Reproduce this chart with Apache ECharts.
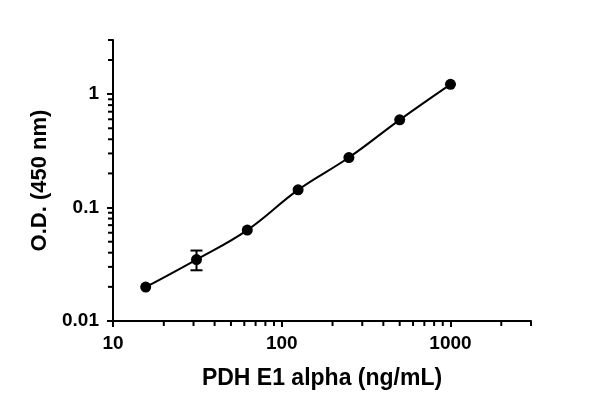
<!DOCTYPE html>
<html>
<head>
<meta charset="utf-8">
<script src="https://cdn.jsdelivr.net/npm/echarts@6/dist/echarts.min.js"></script>
<style>html,body{margin:0;padding:0;background:#fff}#c{width:600px;height:409px}</style>
</head>
<body>
<div id="c"></div>
<script>
// Data
const conc = [15.625, 31.25, 62.5, 125, 250, 500, 1000];
const od = [0.0199, 0.0348, 0.0633, 0.1432, 0.276, 0.593, 1.219];
const errLow = [null, 0.028, null, null, null, null, null];
const errHigh = [null, 0.0418, null, null, null, null, null];
const xMin = 10, xMax = 3000;
const yMin = 0.01, yMax = 3;
const xMinorTicks = [20, 30, 40, 50, 60, 70, 80, 90, 200, 300, 400, 500, 600, 700, 800, 900, 2000, 3000];
const yMinorTicks = [0.02, 0.03, 0.04, 0.05, 0.06, 0.07, 0.08, 0.09, 0.2, 0.3, 0.4, 0.5, 0.6, 0.7, 0.8, 0.9, 2, 3];
const xTitle = 'PDH E1 alpha (ng/mL)';
const yTitle = 'O.D. (450 nm)';

const font = '"Liberation Sans", Arial, sans-serif';
const chart = echarts.init(document.getElementById('c'));

const points = conc.map((c, i) => [c, od[i]]);
const errData = conc.map((c, i) => errLow[i] != null ? [c, errLow[i], errHigh[i]] : null).filter(Boolean);
// tick positions: [value on x, value on y, direction 0 = x tick, 1 = y tick]
const tickData = xMinorTicks.map(v => [v, yMin, 0]).concat(yMinorTicks.map(v => [xMin, v, 1]));

const lineStyle = { color: '#000', width: 2 };
const tickLen = 5;

chart.setOption({
  animation: false,
  grid: { left: 113, right: 69, top: 40, bottom: 88, containLabel: false },
  xAxis: {
    type: 'log', logBase: 10, min: xMin, max: xMax,
    splitLine: { show: false }, minorTick: { show: false },
    axisLine: { show: true, lineStyle: lineStyle },
    axisTick: { show: true, inside: false, length: 6, lineStyle: lineStyle },
    axisLabel: { show: true, margin: 13, color: '#000', fontFamily: font, fontWeight: 'bold', fontSize: 19, formatter: v => String(v), showMaxLabel: false },
    name: xTitle, nameLocation: 'middle', nameGap: 46,
    nameTextStyle: { color: '#000', fontFamily: font, fontWeight: 'bold', fontSize: 23 }
  },
  yAxis: {
    type: 'log', logBase: 10, min: yMin, max: yMax,
    splitLine: { show: false }, minorTick: { show: false },
    axisLine: { show: true, lineStyle: lineStyle },
    axisTick: { show: true, inside: false, length: 6, lineStyle: lineStyle },
    axisLabel: { show: true, margin: 14, color: '#000', fontFamily: font, fontWeight: 'bold', fontSize: 19, formatter: v => String(v), showMaxLabel: false },
    name: yTitle, nameLocation: 'middle', nameGap: 50,
    nameTextStyle: { color: '#000', fontFamily: font, fontWeight: 'bold', fontSize: 22 }
  },
  series: [
    {
      type: 'line', data: points, smooth: 0.4,
      symbol: 'circle', symbolSize: 11,
      itemStyle: { color: '#000' }, lineStyle: { color: '#000', width: 2 }, z: 3
    },
    {
      type: 'custom', data: errData, z: 4, clip: false,
      renderItem: function (params, api) {
        const x = api.value(0);
        const lo = api.coord([x, api.value(1)]);
        const hi = api.coord([x, api.value(2)]);
        const w = 6;
        const st = { stroke: '#000', lineWidth: 2 };
        return { type: 'group', children: [
          { type: 'line', shape: { x1: lo[0], y1: lo[1], x2: hi[0], y2: hi[1] }, style: st },
          { type: 'line', shape: { x1: lo[0] - w, y1: lo[1], x2: lo[0] + w, y2: lo[1] }, style: st },
          { type: 'line', shape: { x1: hi[0] - w, y1: hi[1], x2: hi[0] + w, y2: hi[1] }, style: st }
        ]};
      }
    },
    {
      type: 'custom', data: tickData, z: 5, clip: false, silent: true,
      renderItem: function (params, api) {
        const p = api.coord([api.value(0), api.value(1)]);
        const isY = api.value(2) === 1;
        return {
          type: 'line',
          shape: isY ? { x1: p[0], y1: p[1], x2: p[0] - tickLen, y2: p[1] }
                     : { x1: p[0], y1: p[1], x2: p[0], y2: p[1] + tickLen },
          style: { stroke: '#000', lineWidth: 2 }
        };
      }
    }
  ]
});
</script>
</body>
</html>
